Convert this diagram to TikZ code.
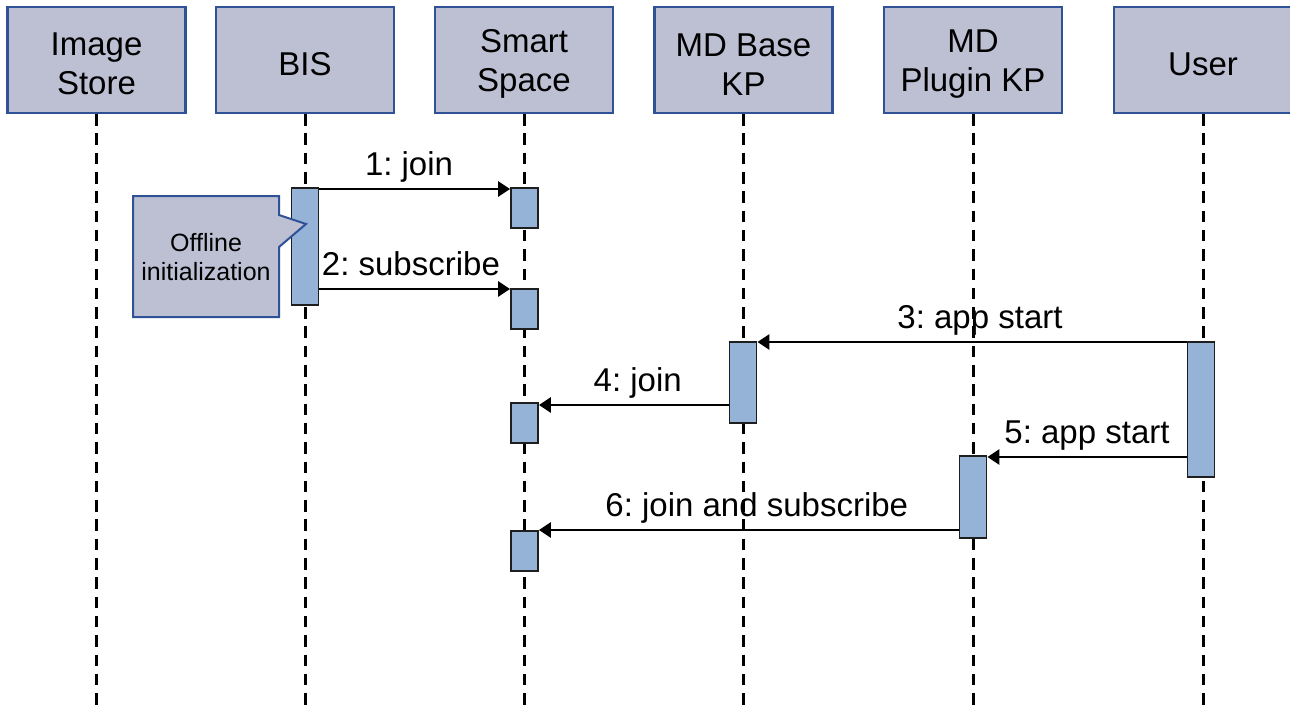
\documentclass[tikz,border=0pt]{standalone}
\usepackage{fontspec}
\setmainfont{Liberation Sans}
\usetikzlibrary{arrows.meta}
\definecolor{headfill}{RGB}{189,192,211}
\definecolor{headline}{RGB}{47,82,150}
\definecolor{actfill}{RGB}{149,179,215}
\definecolor{actline}{RGB}{30,30,30}
\newcommand{\strutup}{\rule{0pt}{31pt}}
\tikzset{
  head/.style={draw=headline, fill=headfill, line width=2.2pt, minimum width=178pt,
    minimum height=106pt, inner sep=0pt, align=center,
    font=\fontsize{33}{39}\selectfont\frenchspacing},
  life/.style={line width=3pt, dash pattern=on 11.5pt off 7.8pt},
  act/.style={draw=actline, fill=actfill, line width=1.8pt, minimum width=27pt,
    inner sep=0pt, anchor=north},
  msg/.style={line width=2.6pt, -{Triangle[length=12pt,width=15pt]}},
  lbl/.style={anchor=base, yshift=14pt, font=\fontsize{33}{39}\selectfont\frenchspacing,
    inner sep=0pt},
  note/.style={draw=headline, fill=headfill, line width=2pt, line join=miter},
}
\begin{document}
\begin{tikzpicture}[x=1pt, y=-1pt]
\fill[white] (0,0) rectangle (1290,704);
\useasboundingbox (0,0) rectangle (1290,704);

% participants
\node[head] (is)  at (96.5,60) {\strutup Image\\Store};
\node[head] (bis) at (305,60) {\strutup BIS};
\node[head] (ss)  at (524,60) {\strutup Smart\\Space};
\node[head] (mdb) at (743.5,60) {\strutup MD Base\\KP};
\node[head] (mdp) at (973,60) {\strutup MD\\Plugin KP};
\node[head] (usr) at (1203,60) {\strutup User};

% lifelines
\coordinate (bot) at (0,706);
\foreach \p in {is,bis,ss,mdb,mdp,usr}
  \draw[life] (\p.south) -- (\p.south |- bot);

% activation bars
\node[act, minimum height=117pt] (bisA) at (305,187) {};
\node[act, minimum height=40pt]  (ss1)  at (524.5,187) {};
\node[act, minimum height=40pt]  (ss2)  at (524.5,288) {};
\node[act, minimum height=40pt]  (ss3)  at (524.5,402) {};
\node[act, minimum height=40pt]  (ss4)  at (524.5,530) {};
\node[act, minimum height=81pt]  (mdbA) at (743,341) {};
\node[act, minimum height=135pt] (usrA) at (1201,341) {};
\node[act, minimum height=82pt]  (mdpA) at (973,455) {};

% note attached to BIS
\draw[note] (133,196) -- (279,196) -- (279,215) -- (306,224) -- (279,247)
  -- (279,317) -- (133,317) -- cycle;
\node[align=center, font=\fontsize{25}{29}\selectfont] (noteText) at (206,257)
  {Offline\\initialization};

% messages
\draw[msg] ([yshift=-2pt]bisA.north east) -- ([yshift=-2pt]ss1.north west)
  node[lbl, pos=0.47] {1: join};
\draw[msg] ([yshift=-1pt]bisA.east |- ss2.north) -- ([yshift=-1pt]ss2.north west)
  node[lbl, pos=0.48] {2: subscribe};
\draw[msg] ([yshift=-1pt]usrA.north west) -- ([yshift=-1pt]mdbA.north east)
  node[lbl, midway, xshift=8pt] {3: app start};
\draw[msg] ([yshift=-3pt]mdbA.west |- ss3.north) -- ([yshift=-3pt]ss3.north east)
  node[lbl, midway, xshift=4pt] {4: join};
\draw[msg] ([yshift=-2pt]usrA.west |- mdpA.north) -- ([yshift=-2pt]mdpA.north east)
  node[lbl, midway] {5: app start};
\draw[msg] (mdpA.west |- ss4.north) -- (ss4.north east)
  node[lbl, midway, xshift=8pt] {6: join and subscribe};
\end{tikzpicture}
\end{document}
